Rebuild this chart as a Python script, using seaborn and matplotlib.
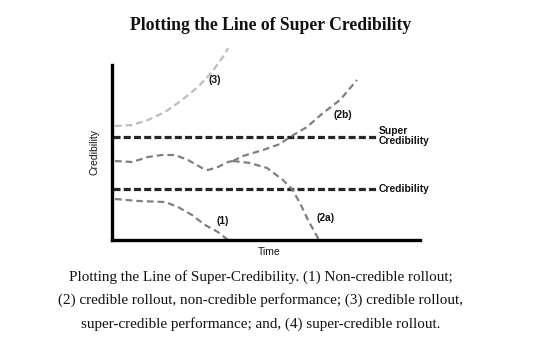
import matplotlib
matplotlib.use("Agg")
import matplotlib.pyplot as plt
import seaborn as sns
import pandas as pd

sns.set_theme(style="white")
plt.rcParams["font.family"] = ["Liberation Sans", "DejaVu Sans"]

# Threshold levels
super_level = 103
cred_level = 51
threshold_x = [1, 265]

# (3) credible rollout, super-credible performance
t3 = [3, 20, 36, 53, 70, 86, 100, 113, 116]
c3 = [114, 115, 120, 128, 140, 153, 168, 186, 192]

# (2) shared start before the paths split
t2 = [3, 20, 36, 50, 63, 76, 90, 96, 106, 116, 121]
c2 = [79, 78, 83, 85, 85, 80, 72, 70, 73, 78, 79]

# (2b) rises above super credibility
t2b = [121, 131, 151, 168, 178, 195, 211, 228, 245]
c2b = [79, 84, 90, 96, 103, 113, 127, 140, 160]

# (2a) falls below credibility
t2a = [121, 138, 155, 171, 180, 188, 196, 207]
c2a = [79, 77, 72, 60, 51, 37, 20, 0]

# (1) non-credible rollout
t1 = [3, 26, 53, 66, 80, 93, 106, 116]
c1 = [41, 39, 38, 33, 25, 15, 8, 0]

fig = plt.figure(figsize=(5.4, 3.42), dpi=100)
W, H = 540, 342
ax = fig.add_axes([112 / W, (H - 240) / H, (420 - 112) / W, (240 - 65) / H])
ax.set_xlim(0, 308)
ax.set_ylim(0, 175)

dark = "#262626"
mid = "#808080"
light = "#bdbdbd"

for lvl in (super_level, cred_level):
    sns.lineplot(x=threshold_x, y=[lvl, lvl], ax=ax, color=dark, lw=2.3,
                 dashes=False, estimator=None, sort=False)
    ax.lines[-1].set_dashes([2.2, 1.0])

curves = [
    (t3, c3, light),
    (t2, c2, mid),
    (t2b, c2b, mid),
    (t2a, c2a, mid),
    (t1, c1, mid),
]
for t, c, col in curves:
    sns.lineplot(x=t, y=c, ax=ax, color=col, lw=1.6, estimator=None, sort=False)
    ln = ax.lines[-1]
    ln.set_dashes([3.0, 1.8])
    ln.set_clip_on(False)

for side in ("top", "right"):
    ax.spines[side].set_visible(False)
for side in ("left", "bottom"):
    ax.spines[side].set_linewidth(2.4)
    ax.spines[side].set_color("black")
ax.set_xticks([])
ax.set_yticks([])
ax.set_xlabel("")
ax.set_ylabel("")

lab = dict(fontsize=7.4, fontweight="bold", color="#111111")
ax.text(103, 160, "(3)", ha="center", va="center", **lab)
ax.text(111, 19, "(1)", ha="center", va="center", **lab)
ax.text(231, 125, "(2b)", ha="center", va="center", **lab)
ax.text(214, 22, "(2a)", ha="center", va="center", **lab)
ax.text(267, 104, "Super\nCredibility", ha="left", va="center",
        linespacing=1.0, **lab)
ax.text(267, cred_level, "Credibility", ha="left", va="center", **lab)

fig.text(269 / W, 1 - 252 / H, "Time", ha="center", va="center",
         fontsize=7.5, color="#111111")
fig.text(95 / W, 1 - 152 / H, "Credibility", ha="center", va="center",
         rotation=90, fontsize=7.5, color="#111111")

fig.text(271 / W, 1 - 25 / H, "Plotting the Line of Super Credibility",
         ha="center", va="center", fontsize=12.7, fontweight="bold",
         family=["Liberation Serif", "DejaVu Serif"], color="#111111")

caption = [
    "Plotting the Line of Super-Credibility. (1) Non-credible rollout;",
    "(2) credible rollout, non-credible performance; (3) credible rollout,",
    "super-credible performance; and, (4) super-credible rollout.",
]
for i, line in enumerate(caption):
    fig.text(261 / W, 1 - (277 + 23.5 * i) / H, line, ha="center", va="center",
             fontsize=10.9, family=["Liberation Serif", "DejaVu Serif"],
             color="#111111")

fig.savefig("out.png", dpi=100, facecolor="white")
